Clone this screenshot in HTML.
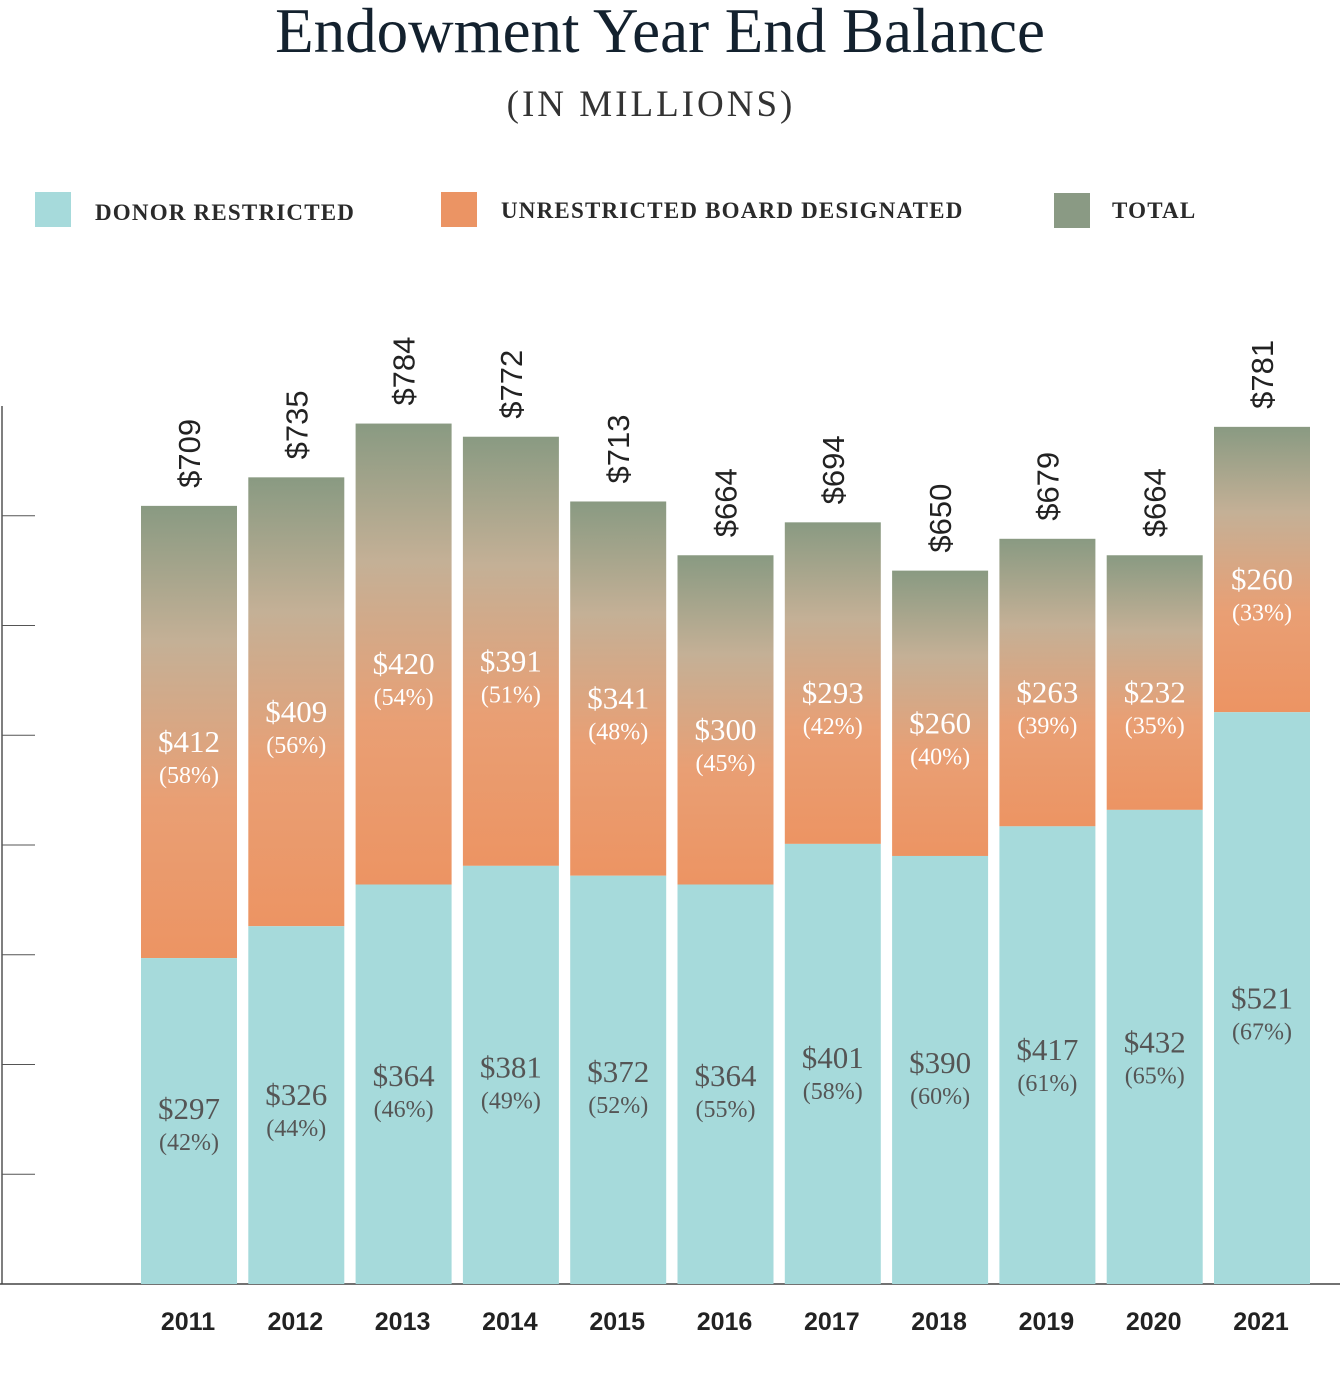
<!DOCTYPE html>
<html><head><meta charset="utf-8">
<style>
html,body{margin:0;padding:0;background:#fff;}
svg{display:block;}
</style></head>
<body>
<svg id="chart" width="1340" height="1400" viewBox="0 0 1340 1400" xmlns="http://www.w3.org/2000/svg">
<defs>
<linearGradient id="ub" x1="0" y1="1" x2="0" y2="0">
<stop offset="0" stop-color="#ec9463"/>
<stop offset="0.35" stop-color="#e99f74"/>
<stop offset="0.7" stop-color="#c4b096"/>
<stop offset="1" stop-color="#899a82"/>
</linearGradient>
</defs>
<text x="660" y="52" text-anchor="middle" font-family="Liberation Serif, serif" font-size="63" fill="#13212e">Endowment Year End Balance</text>
<text x="651" y="116" text-anchor="middle" font-family="Liberation Serif, serif" font-size="37" letter-spacing="3" fill="#333">(IN MILLIONS)</text>
<g font-family="Liberation Serif, serif" font-weight="bold" font-size="23" letter-spacing="1.2" fill="#2a2a2a">
<rect x="35" y="192" width="36" height="35" fill="#a6dadb"/>
<text x="95" y="220">DONOR RESTRICTED</text>
<rect x="441" y="192" width="36" height="35" fill="#eb9464"/>
<text x="501" y="218">UNRESTRICTED BOARD DESIGNATED</text>
<rect x="1054" y="193" width="36" height="35" fill="#8a9a84"/>
<text x="1112" y="218">TOTAL</text>
</g>
<g id="axis"></g>
<g id="bars"></g>
</svg>
<script>
const years = ["2011","2012","2013","2014","2015","2016","2017","2018","2019","2020","2021"];
const donor = [297,326,364,381,372,364,401,390,417,432,521];
const unrestricted = [412,409,420,391,341,300,293,260,263,232,260];
const totals = [709,735,784,772,713,664,694,650,679,664,781];
const yTicks = [0,100,200,300,400,500,600,700,800];

const NS = "http://www.w3.org/2000/svg";
const baseY = 1284, pxPerUnit = 1.0975;
const x0 = 141, step = 107.3, bw = 96;
const y = v => baseY - v * pxPerUnit;
const xb = i => x0 + i * step;
function mk(tag, attrs, parent, text) {
  const e = document.createElementNS(NS, tag);
  for (const k in attrs) e.setAttribute(k, attrs[k]);
  if (text !== undefined) e.textContent = text;
  parent.appendChild(e);
  return e;
}
const axis = document.getElementById('axis');
const al = mk('line', {x1:2, x2:2, y1:y(800), y2:baseY, stroke:'#555', 'stroke-width':1.5}, axis);


yTicks.forEach(t => {
  if (t === 0 || t === 800) return;
  const tl = mk('line', {x1:2, x2:35, y1:y(t), y2:y(t), stroke:'#555', 'stroke-width':1}, axis);
  
  
});
const bl = mk('line', {x1:0, x2:1340, y1:baseY, y2:baseY, stroke:'#444', 'stroke-width':1.5}, axis);



const bars = document.getElementById('bars');
years.forEach((yr, i) => {
  const x = xb(i), cx = x + bw / 2;
  const tot = donor[i] + unrestricted[i];
  const rt = mk('rect', {x:x, y:y(totals[i]), width:bw, height:y(donor[i]) - y(totals[i]), fill:'url(#ub)'}, bars);
  
  
  const rd = mk('rect', {x:x, y:y(donor[i]), width:bw, height:baseY - y(donor[i]), fill:'#a6dadb'}, bars);
  
  

  const dMid = 0.45 * y(donor[i]) + 688;
  const dv = mk('text', {x:cx, y:dMid, 'text-anchor':'middle', 'font-family':'Liberation Serif, serif', 'font-size':31, fill:'#555'}, bars, '$' + donor[i]);
  
  
  const dp = mk('text', {x:cx, y:dMid + 31, 'text-anchor':'middle', 'font-family':'Liberation Serif, serif', 'font-size':24, fill:'#555'}, bars, '(' + Math.round(donor[i] / tot * 100) + '%)');
  
  

  const uMid = (y(totals[i]) + y(donor[i])) / 2 + 20;
  const uv = mk('text', {x:cx, y:uMid, 'text-anchor':'middle', 'font-family':'Liberation Serif, serif', 'font-size':31, fill:'#fff'}, bars, '$' + unrestricted[i]);
  
  
  const up = mk('text', {x:cx, y:uMid + 31, 'text-anchor':'middle', 'font-family':'Liberation Serif, serif', 'font-size':24, fill:'#fff'}, bars, '(' + Math.round(unrestricted[i] / tot * 100) + '%)');
  
  

  const ty = y(totals[i]) - 18;
  const tt = mk('text', {x:0, y:0, transform:'translate(' + (cx + 11) + ',' + ty + ') rotate(-90)', 'font-family':'Liberation Sans, sans-serif', 'font-size':31, fill:'#222'}, bars, '$' + totals[i]);
  
  

  const xl = mk('text', {x:cx - 1, y:1330, 'text-anchor':'middle', 'font-family':'Liberation Sans, sans-serif', 'font-weight':'bold', 'font-size':25, fill:'#222'}, bars, yr);
  
  
});
</script>
</body></html>
